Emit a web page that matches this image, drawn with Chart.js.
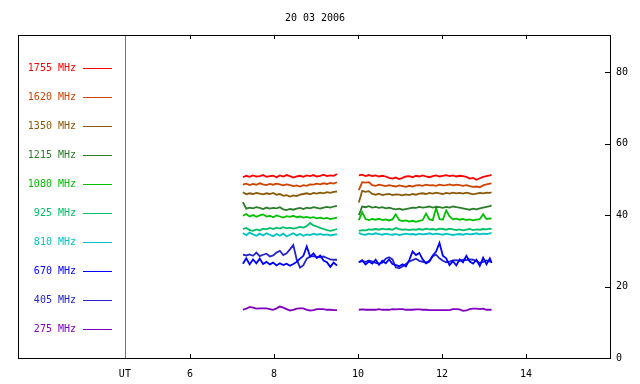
<!DOCTYPE html>
<html>
<head>
<meta charset="utf-8">
<title>20 03 2006</title>
<script src="https://cdn.jsdelivr.net/npm/chart.js@4/dist/chart.umd.min.js"></script>
<style>
  html, body { margin: 0; padding: 0; background: #fff; }
  #wrap { width: 640px; height: 384px; }
</style>
</head>
<body>
<div id="wrap"><canvas id="radio" width="640" height="384"></canvas></div>
<script>
// --- datos ---
const titleText = '20 03 2006';
const xTicks = [6, 8, 10, 12, 14];
const yTicks = [0, 20, 40, 60, 80];
const utHour = 4.45;

// hora UT de cada muestra (el null del hueco va en 9.78)
const hours = [
  7.26, 7.34, 7.42, 7.50, 7.58, 7.66, 7.74, 7.82, 7.90, 7.98, 8.06, 8.14, 8.22, 8.30, 8.38,
  8.46, 8.54, 8.62, 8.70, 8.78, 8.86, 8.94, 9.02, 9.10, 9.18, 9.26, 9.34, 9.42, 9.50,
  9.78,
  10.02, 10.10, 10.18, 10.26, 10.34, 10.42, 10.50, 10.58, 10.66, 10.74, 10.82, 10.90, 10.98, 11.06,
  11.14, 11.22, 11.30, 11.38, 11.46, 11.54, 11.62, 11.70, 11.78, 11.86, 11.94, 12.02, 12.10, 12.18,
  12.26, 12.34, 12.42, 12.50, 12.58, 12.66, 12.74, 12.82, 12.90, 12.98, 13.06, 13.14, 13.18
];

const f1755 = [
  50.6, 51.0, 50.7, 51.1, 50.8, 50.9, 51.2, 50.7, 50.9, 51.0, 50.6, 51.1, 50.8, 51.2, 50.9,
  50.5, 50.8, 51.0, 50.7, 51.1, 50.9, 51.2, 50.8, 51.0, 51.3, 50.9, 51.1, 51.0, 51.5,
  null,
  51.1, 51.3, 50.9, 51.2, 50.9, 51.1, 50.8, 51.0, 50.8, 50.4, 50.2, 50.5, 50.1, 50.4,
  50.8, 50.9, 50.6, 51.0, 50.8, 51.1, 50.8, 50.6, 50.9, 51.1, 50.8, 51.0, 51.2, 50.9,
  51.1, 50.8, 51.0, 50.9, 50.7, 50.2, 50.4, 49.9, 50.3, 50.7, 50.9, 51.1, 51.3
];
const f1620 = [
  48.5, 48.8, 48.4, 48.7, 48.5, 48.9, 48.6, 48.4, 48.7, 48.5, 48.8, 48.6, 48.3, 48.6, 48.4,
  48.1, 48.3, 48.0, 48.4, 48.2, 48.6, 48.5, 48.8, 48.6, 48.9, 48.7, 49.0, 48.8, 49.2,
  null,
  47.0, 49.2, 49.1, 49.2, 48.4, 48.2, 48.5, 48.3, 48.1, 48.4, 48.2, 48.0, 48.3, 48.1,
  47.9, 48.2, 48.0, 48.3, 48.4, 48.2, 48.5, 48.3, 48.4, 48.2, 48.5, 48.3, 48.4, 48.6,
  48.3, 48.5, 48.4, 48.2, 48.4, 48.1, 47.9, 48.0, 47.8, 48.3, 48.6, 48.8, 48.9
];
const f1350 = [
  46.4, 45.8, 46.1, 45.9, 46.2, 46.0, 45.8, 46.1, 45.9, 46.2, 45.7, 45.9, 45.4, 45.6, 45.2,
  45.5, 45.3, 45.7, 45.9, 46.1, 45.8, 46.2, 46.0, 46.3, 46.1, 46.4, 46.2, 46.5, 46.6,
  null,
  43.5, 46.8, 46.5, 46.7, 45.9, 45.7, 46.0, 45.6, 45.8, 45.9, 45.6, 45.8, 45.7, 45.5,
  45.8, 45.6, 45.9, 45.7, 46.0, 46.1, 45.9, 46.2, 46.0, 46.3, 46.1, 45.9, 46.2, 46.0,
  46.3, 46.1, 46.2, 46.0, 46.3, 46.1, 45.8, 46.0, 46.2, 46.1, 46.3, 46.2, 46.4
];
const f1215 = [
  43.6, 41.8, 42.1, 41.9, 42.2, 42.0, 41.7, 42.1, 41.8, 42.0, 41.9, 42.2, 41.6, 41.4, 41.7,
  41.5, 41.8, 42.0, 41.7, 42.1, 41.9, 42.2, 42.0, 41.8, 42.1, 42.3, 42.1, 42.4, 42.6,
  null,
  40.0, 42.4, 42.2, 42.5, 42.1, 42.3, 42.0, 42.2, 41.9, 42.1, 41.8, 41.6, 41.8, 41.5,
  41.7, 41.9, 42.1, 42.0, 42.3, 42.1, 42.2, 42.4, 42.1, 42.3, 42.2, 42.0, 42.3, 42.1,
  42.4, 42.2, 42.1, 41.9, 41.7, 41.5, 41.8, 41.6, 41.9, 42.1, 42.3, 42.5, 42.7
];
const f1080 = [
  39.8, 40.3, 39.6, 40.0, 39.5, 39.9, 40.2, 39.6, 39.8, 39.4, 39.9, 39.6, 39.3, 39.7, 39.5,
  39.8, 39.4, 39.6, 39.3, 39.5, 39.2, 39.4, 39.1, 39.3, 39.0, 39.2, 38.9, 39.1, 39.3,
  null,
  38.6, 40.8, 38.9, 38.6, 38.9, 38.7, 39.0, 38.6, 38.8, 38.5, 38.8, 40.2, 38.6, 38.3,
  38.5, 38.2, 38.4, 38.1, 38.4, 38.6, 40.4, 38.8, 38.6, 42.0, 38.9, 38.7, 41.3, 39.6,
  38.8, 39.0, 38.7, 38.9, 38.6, 38.8, 38.5, 38.7, 38.9, 40.2, 38.9, 39.1, 39.0
];
const f925 = [
  36.1, 36.4, 35.8, 35.6, 36.0, 35.7, 36.2, 36.0, 36.4, 36.1, 36.5, 36.2, 36.6, 36.3, 36.5,
  36.2, 36.4, 36.7, 36.5, 36.9, 37.8, 37.1, 36.8, 36.4, 36.1, 35.8, 35.6, 35.8, 36.1,
  null,
  35.6, 35.8, 35.7, 36.0, 35.9, 36.1, 35.9, 36.2, 36.0, 36.1, 35.9, 36.4, 36.1, 35.9,
  36.0, 35.8, 36.0, 35.9, 36.1, 35.9, 36.2, 36.0, 36.1, 35.9, 36.2, 36.1, 35.9, 36.2,
  36.0, 35.8, 36.0, 35.7, 35.9, 36.1, 35.8, 36.0, 35.9, 36.1, 36.0, 36.2, 36.1
];
const f810 = [
  35.0, 34.4, 35.1, 34.6, 34.2, 34.8, 34.3, 34.9, 34.5, 34.1, 34.7, 34.2, 34.8, 34.0, 34.5,
  34.9, 34.3, 34.7, 34.2, 34.6, 34.4, 34.8, 34.5, 34.7, 34.4, 34.6, 34.3, 34.5, 34.6,
  null,
  35.0, 34.6, 34.5, 34.8, 34.6, 34.9, 34.7, 34.5, 34.8, 34.6, 34.5, 34.7, 34.4, 34.6,
  34.8, 34.6, 34.7, 34.5, 34.8, 34.6, 34.7, 34.9, 34.6, 34.8, 34.7, 34.5, 34.8, 34.6,
  34.4, 34.6, 34.7, 34.5, 34.8, 34.6, 34.7, 34.9, 34.6, 34.8, 34.7, 34.9, 35.0
];
const f670 = [
  26.4, 27.9, 26.2, 27.6, 26.5, 27.8, 26.3, 26.9, 26.2, 26.7, 25.9, 26.5, 26.0, 26.4, 25.8,
  26.3, 26.9, 27.8, 28.6, 31.2, 28.4, 29.3, 28.0, 28.7, 27.3, 26.8, 25.5, 26.7, 25.9,
  null,
  26.8, 27.4, 26.2, 27.0, 26.4, 27.5, 26.1, 27.2, 26.5, 27.6, 26.3, 26.0, 25.7, 26.2,
  25.6, 27.4, 29.8, 28.8, 29.4, 27.6, 26.5, 27.0, 28.7, 29.8, 32.2, 28.6, 27.9, 26.0,
  27.1, 25.9, 27.6, 26.8, 28.6, 27.0, 26.4, 27.5, 25.8, 28.1, 26.2, 27.9, 26.6
];
const f405 = [
  28.9, 28.7, 29.0, 28.6, 29.5, 28.5, 28.9, 29.2, 28.4, 28.7, 29.5, 30.0, 28.8, 29.3, 30.4,
  31.6, 27.6, 25.3, 26.0, 27.8, 28.4, 28.5, 28.3, 28.2, 28.4, 28.0, 27.6, 27.5, 27.5,
  null,
  26.8, 27.1, 26.9, 27.3, 27.0, 26.6, 26.4, 26.7, 27.8, 28.2, 27.6, 25.4, 25.1, 25.6,
  26.3, 27.0, 27.4, 27.8, 27.2, 26.9, 26.7, 27.2, 28.5, 28.9, 27.9, 27.2, 26.8, 27.0,
  27.3, 27.4, 27.2, 27.5, 27.4, 27.6, 27.5, 27.1, 26.6, 26.9, 27.3, 27.0, 27.2
];
const f275 = [
  13.5, 13.8, 14.3, 14.1, 13.8, 13.9, 13.9, 13.9, 13.7, 13.5, 13.9, 14.4, 14.1, 13.7, 13.3,
  13.5, 13.8, 13.9, 13.9, 13.5, 13.3, 13.4, 13.7, 13.7, 13.7, 13.5, 13.5, 13.4, 13.4,
  null,
  13.5, 13.6, 13.5, 13.5, 13.5, 13.5, 13.7, 13.5, 13.5, 13.5, 13.7, 13.6, 13.7, 13.7,
  13.5, 13.5, 13.5, 13.6, 13.6, 13.5, 13.5, 13.4, 13.4, 13.4, 13.4, 13.4, 13.4, 13.4,
  13.7, 13.7, 13.6, 13.2, 13.3, 13.7, 13.8, 13.8, 13.7, 13.8, 13.5, 13.5, 13.5
];

const freqLabels = ['1755 MHz', '1620 MHz', '1350 MHz', '1215 MHz', '1080 MHz',
                    '925 MHz', '810 MHz', '670 MHz', '405 MHz', '275 MHz'];
const freqSeries = [f1755, f1620, f1350, f1215, f1080, f925, f810, f670, f405, f275];
const freqColors = ['#ff0000', '#cc4400', '#8a5a08', '#2a7d2a', '#00c000',
                    '#00c068', '#00c4c4', '#0000ff', '#2424c8', '#8000c0'];

// --- plugin: marco, titulo, linea UT, marcas hacia dentro y leyenda ---
function seg(ctx, x1, y1, x2, y2) {
  ctx.beginPath();
  ctx.moveTo(x1, y1);
  ctx.lineTo(x2, y2);
  ctx.stroke();
}

const framePlugin = {
  id: 'frame',
  afterDraw(chart) {
    const { ctx, chartArea: a, scales } = chart;
    const x = scales.x, y = scales.y;
    ctx.save();
    ctx.lineWidth = 1;
    ctx.font = '10px "DejaVu Sans Mono"';

    ctx.fillStyle = '#000';
    ctx.textAlign = 'center';
    ctx.textBaseline = 'middle';
    ctx.fillText(titleText, 315, 18);

    // linea vertical UT
    const ux = Math.round(x.getPixelForValue(utHour)) + 0.5;
    ctx.strokeStyle = '#707070';
    seg(ctx, ux, a.top, ux, a.bottom);

    // marco
    ctx.strokeStyle = '#000';
    ctx.strokeRect(a.left + 0.5, a.top + 0.5, a.right - a.left, a.bottom - a.top);

    xTicks.forEach(v => {
      const px = Math.round(x.getPixelForValue(v)) + 0.5;
      seg(ctx, px, a.top, px, a.top + 4);
      seg(ctx, px, a.bottom, px, a.bottom - 4);
    });
    yTicks.forEach(v => {
      const py = Math.round(y.getPixelForValue(v)) + 0.5;
      seg(ctx, a.right - 5, py, a.right, py);
    });

    // leyenda
    ctx.textAlign = 'right';
    chart.data.datasets.forEach((ds, i) => {
      const ly = 68 + 29 * i;
      ctx.fillStyle = ds.borderColor;
      ctx.strokeStyle = ds.borderColor;
      ctx.fillText(ds.label, 76, ly);
      seg(ctx, 83, ly + 0.5, 112, ly + 0.5);
    });
    ctx.restore();
  }
};

Chart.defaults.font.family = '"DejaVu Sans Mono", monospace';
Chart.defaults.font.size = 10;
Chart.defaults.color = '#000';

new Chart(document.getElementById('radio').getContext('2d'), {
  type: 'line',
  data: {
    datasets: freqSeries.map((vals, i) => ({
      label: freqLabels[i],
      data: hours.map((h, k) => ({ x: h, y: vals[k] })),
      borderColor: freqColors[i],
      borderWidth: 1.8,
      pointRadius: 0,
      tension: 0,
      spanGaps: false
    }))
  },
  options: {
    responsive: false,
    animation: false,
    layout: { padding: { left: 18, top: 35, right: 0, bottom: 0 } },
    plugins: {
      legend: { display: false },
      title: { display: false },
      tooltip: { enabled: false }
    },
    scales: {
      x: {
        type: 'linear',
        position: 'bottom',
        min: 1.905,
        max: 16,
        afterBuildTicks: s => { s.ticks = [utHour, ...xTicks].map(v => ({ value: v })); },
        afterFit: s => { s.height = 26; },
        grid: { display: false, drawTicks: false },
        border: { display: false },
        ticks: {
          padding: 10,
          maxRotation: 0,
          autoSkip: false,
          callback: v => (v === utHour ? 'UT' : v)
        }
      },
      y: {
        type: 'linear',
        position: 'right',
        min: 0,
        max: 90.4,
        afterBuildTicks: s => { s.ticks = yTicks.map(v => ({ value: v })); },
        afterFit: s => { s.width = 30; },
        grid: { display: false, drawTicks: false },
        border: { display: false },
        ticks: { padding: 6 }
      }
    }
  },
  plugins: [framePlugin]
});
</script>
</body>
</html>
